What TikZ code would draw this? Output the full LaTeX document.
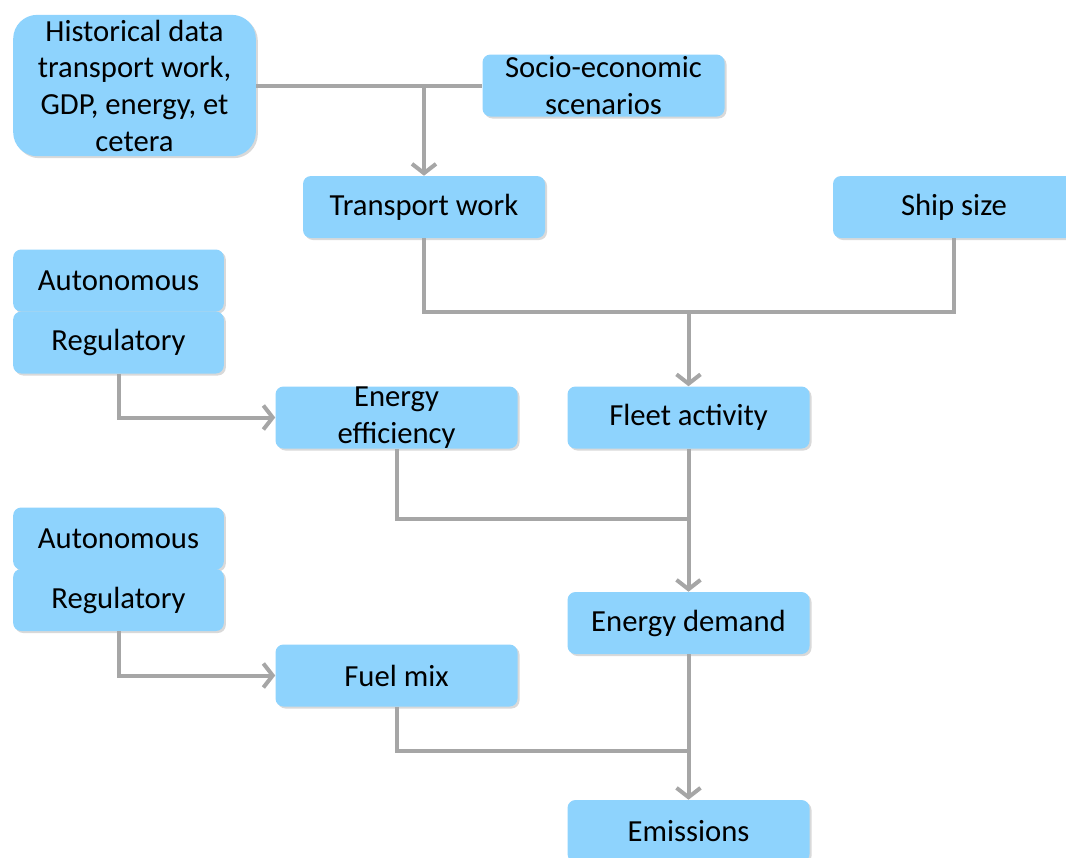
\documentclass[tikz,border=0pt]{standalone}
\usepackage{fontspec}
\setmainfont{Carlito}
\usepackage{tikz}
\usetikzlibrary{arrows.meta,shadows,positioning}

\definecolor{boxblue}{RGB}{142,211,253}
\definecolor{linegray}{RGB}{166,166,166}

\begin{document}
\begin{tikzpicture}[x=0.75pt,y=-0.75pt]
			\tikzstyle{Box}		= [rounded corners=6pt, fill=boxblue, inner sep=0pt, align=center,
								   font=\fontsize{23}{27.5}\selectfont,
								   drop shadow={opacity=0.3, shadow xshift=1.5pt, shadow yshift=-1.5pt}]
			\tikzstyle{Wide}	= [Box, minimum width=181.5pt, minimum height=46.5pt]
			\tikzstyle{Side}	= [Box, minimum width=158pt, minimum height=46.5pt]
			\tikzstyle{Line}	= [line width=3pt, linegray]
			\tikzstyle{Arrow}	= [Line, -{Straight Barb[length=7pt, width=18pt]}]

			\useasboundingbox (0,0) rectangle (1066,857);

			\node (hist) at (134.5, 85.5) [Box, rounded corners=18pt, minimum width=182pt, minimum height=106pt]
				{Historical data\\transport work,\\GDP, energy, et\\cetera};
			\node (socio) at (603.5, 85.5) [Wide] {Socio-economic\\scenarios};
			\foreach \n/\x/\y/\t in {tw/424/207/Transport work, ship/954/207/Ship size,
				fleet/688.5/417.5/Fleet activity, demand/688.5/623/Energy demand,
				fuel/396.5/675.5/Fuel mix, emis/688.5/831/Emissions}
				\node (\n) at (\x, \y) [Wide] {\t};
			\node (eff) at (396.5, 417.5) [Wide] {Energy\\efficiency};
			\foreach \n/\y/\t in {autoA/280.5/Autonomous, regA/342.5/Regulatory,
				autoB/538.5/Autonomous, regB/600/Regulatory}
				\node (\n) at (118.5, \y) [Side] {\t};

			\coordinate (jTw) at (424, 85.5);
			\coordinate (jFleet) at (688.5, 312);
			\coordinate (jDem) at (688.5, 519);
			\coordinate (jEm) at (688.5, 751);

			\draw [Line] (hist.east) -- (socio.west);
			\draw [Arrow] (jTw) -- (tw.north);
			\draw [Line] (tw.south) |- (jFleet) -| (ship.south);
			\draw [Arrow] (jFleet) -- (fleet.north);
			\draw [Arrow] (regA.south) |- (eff.west);
			\draw [Line] (eff.south) |- (jDem);
			\draw [Arrow] (fleet.south) -- (demand.north);
			\draw [Arrow] (regB.south) |- (fuel.west);
			\draw [Line] (fuel.south) |- (jEm);
			\draw [Arrow] (demand.south) -- (emis.north);
		\end{tikzpicture}
\end{document}
